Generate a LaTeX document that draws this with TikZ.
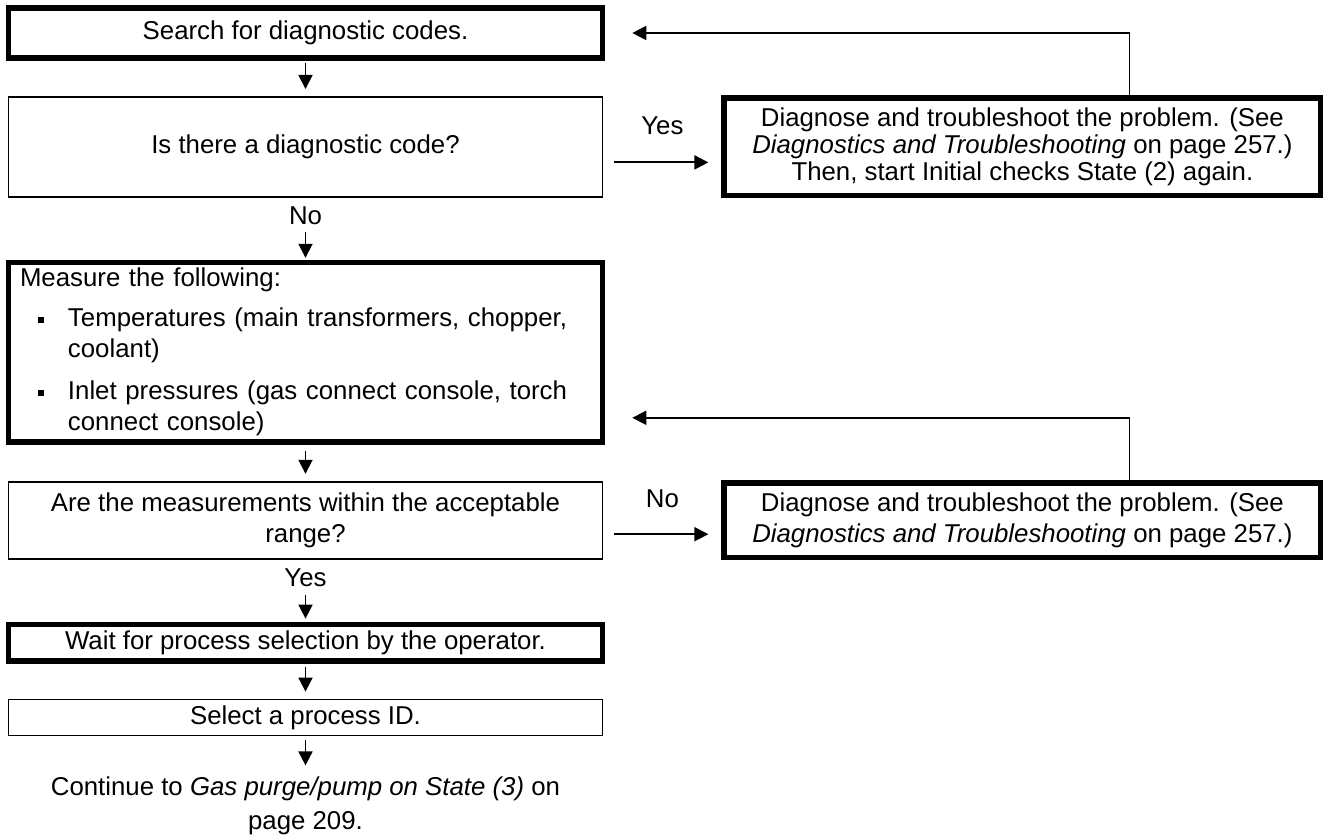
\documentclass[tikz,border=0pt]{standalone}
\usepackage{fontspec}
\setmainfont{Liberation Sans}
\usetikzlibrary{arrows.meta,positioning}
\newcommand{\itembul}{\hspace*{9pt}\makebox[15pt][l]{\rule[1.9pt]{3pt}{3pt}}}

\begin{document}
\begin{tikzpicture}[x=0.5pt,y=-0.5pt,
    box/.style={draw,line width=0.9pt,minimum width=297pt,inner xsep=4pt,inner ysep=1pt,align=center},
    heavy/.style={line width=2.8pt},
    side/.style={box,minimum width=298.2pt},
    lbl/.style={inner sep=0pt},
    flow/.style={->,line width=0.9pt,shorten <=2pt,shorten >=3pt},
    >={Triangle[length=7pt,width=7pt]},
    font=\fontsize{12.9pt}{15.5pt}\selectfont]
  \useasboundingbox (0,0) rectangle (1323,840);
  % main column
  \node[box,heavy,minimum height=25.2pt] (search) at (305.5,33) {Search for diagnostic codes.};
  \node[box,minimum height=50pt,below=17.5pt of search] (hascode) {Is there a diagnostic code?};
  \node[lbl,below=4.5pt of hascode] (lblno) {No};
  \node[box,heavy,minimum height=89.7pt,text width=285.5pt,inner xsep=5.75pt,align=left,below=31pt of hascode] (measure)
    {Measure the following:\\[4.5pt]
     \itembul Temperatures (main transformers, chopper,\\
     \hspace*{24pt}coolant)\\[5.5pt]
     \itembul Inlet pressures (gas connect console, torch\\
     \hspace*{24pt}connect console)};
  \node[box,minimum height=38.5pt,below=18pt of measure] (inrange) {Are the measurements within the acceptable\\range?};
  \node[lbl,below=4.5pt of inrange] (lblyes) {Yes};
  \node[box,heavy,minimum height=18.2pt,below=31pt of inrange] (waitsel) {Wait for process selection by the operator.};
  \node[box,minimum height=18pt,below=17.5pt of waitsel] (selid) {Select a process ID.};
  \node[lbl,align=center,below=20pt of selid,font=\fontsize{12.9pt}{17pt}\selectfont] (cont) {Continue to \textit{Gas purge/pump on State (3)} on\\page 209.};
  % side boxes
  \node[side,heavy,minimum height=48.7pt,right=59pt of hascode,font=\fontsize{12.9pt}{13.5pt}\selectfont] (fixcode)
    {Diagnose and troubleshoot the problem. (See\\\textit{Diagnostics and Troubleshooting} on page 257.)\\Then, start Initial checks State (2) again.};
  \node[side,heavy,minimum height=37.2pt,right=59pt of inrange] (fixmeas)
    {Diagnose and troubleshoot the problem. (See\\\textit{Diagnostics and Troubleshooting} on page 257.)};
  % arrows
  \draw[flow,shorten <=1pt,shorten >=3.5pt] (search) -- (hascode);
  \draw[flow,shorten <=3.2pt,shorten >=1pt] (lblno) -- (measure);
  \draw[flow,shorten <=3pt,shorten >=3.5pt] (measure) -- (inrange);
  \draw[flow,shorten <=4pt,shorten >=1.5pt] (lblyes) -- (waitsel);
  \draw[flow,shorten <=1.5pt,shorten >=3.5pt] (waitsel) -- (selid);
  \draw[flow,shorten <=2pt,shorten >=5.5pt] (selid) -- (cont);
  \coordinate (yesfrom) at ([yshift=-7.75pt]hascode.east);
  \coordinate (nofrom) at ([yshift=-7pt]inrange.east);
  \draw[flow,shorten <=5.5pt,shorten >=6.5pt] (yesfrom) -- (yesfrom -| fixcode.west) node[lbl,midway,above=13.5pt] {Yes};
  \draw[flow,shorten <=5.5pt,shorten >=6.5pt] (nofrom) -- (nofrom -| fixmeas.west) node[lbl,midway,above=13pt] {No};
  \draw[flow,shorten <=0pt,shorten >=0pt] ([xshift=53.5pt]fixcode.north) |- ([xshift=13.5pt]search.east);
  \draw[flow,shorten <=0pt,shorten >=0pt] ([xshift=53.5pt]fixmeas.north) |- ([xshift=13.5pt,yshift=13.5pt]measure.south east);
\end{tikzpicture}
\end{document}
